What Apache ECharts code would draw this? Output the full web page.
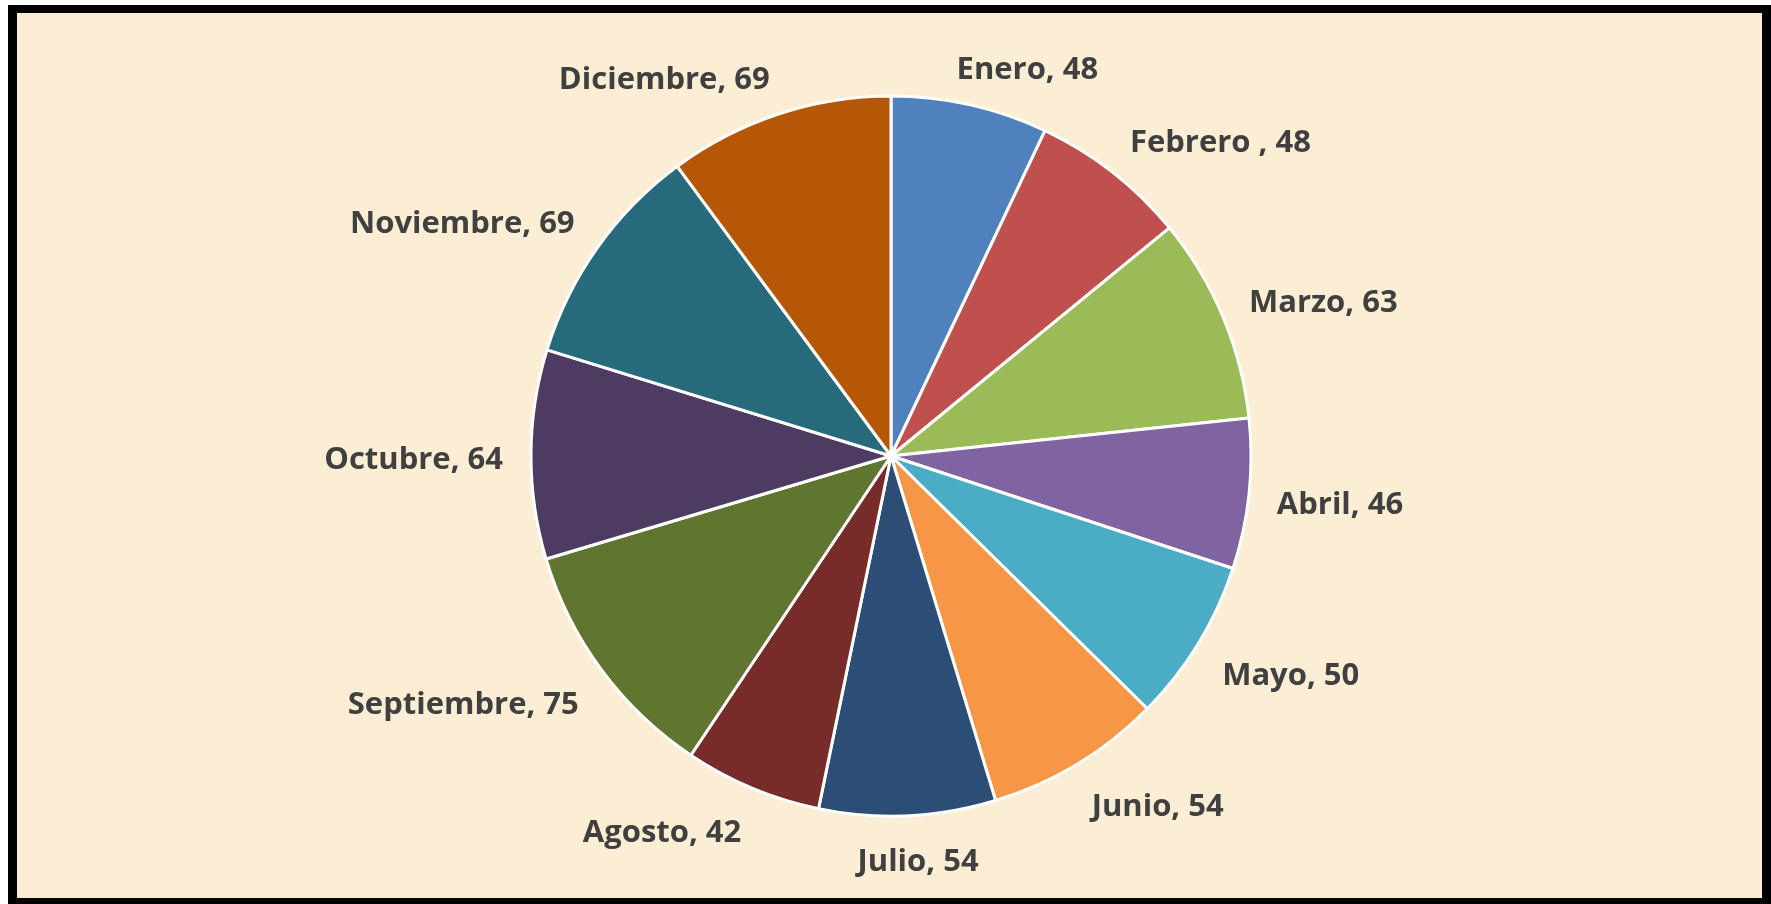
<!DOCTYPE html>
<html>
<head>
<meta charset="utf-8">
<script src="https://cdn.jsdelivr.net/npm/echarts@6/dist/echarts.min.js"></script>
<style>
  html, body { margin: 0; padding: 0; background: #ffffff; }
  #frame {
    position: absolute; left: 8px; top: 5px; width: 1763px; height: 899px;
    box-sizing: border-box; border: 9px solid #000; border-top-width: 8px; border-bottom-width: 6px;
    background: #FBEED4;
  }
  #chart { position: absolute; left: 0; top: 0; width: 1771px; height: 904px; }
</style>
</head>
<body>
<div id="frame"></div>
<div id="chart"></div>
<script>
const categories = ['Enero', 'Febrero ', 'Marzo', 'Abril', 'Mayo', 'Junio', 'Julio', 'Agosto', 'Septiembre', 'Octubre', 'Noviembre', 'Diciembre'];
const values = [48, 48, 63, 46, 50, 54, 54, 42, 75, 64, 69, 69];
const colors = ['#4F81BD', '#C0504D', '#9BBB59', '#8064A2', '#4BACC6', '#F79646', '#2C4D75', '#772C2A', '#5F7530', '#4D3B62', '#276A7C', '#B65708'];

const CX = 891, CY = 456, RADIUS = 360, GAP = 28;
const total = values.reduce((a, b) => a + b, 0);
const midAngles = [];
let acc = 0;
values.forEach(v => { midAngles.push((acc + v / 2) / total * 2 * Math.PI); acc += v; });
const clamp = v => Math.max(-1, Math.min(1, v));

const chart = echarts.init(document.getElementById('chart'), null, { renderer: 'canvas' });
chart.setOption({
  animation: false,
  backgroundColor: 'transparent',
  series: [{
    type: 'pie',
    center: [CX, CY],
    radius: RADIUS,
    startAngle: 90,
    clockwise: true,
    avoidLabelOverlap: false,
    data: categories.map((c, i) => ({ name: c, value: values[i], itemStyle: { color: colors[i] } })),
    itemStyle: { borderColor: '#ffffff', borderWidth: 3 },
    label: {
      show: true,
      position: 'outside',
      formatter: '{b}, {c}',
      fontFamily: '"Open Sans", sans-serif',
      fontWeight: 'bold',
      fontSize: 31,
      color: '#404040'
    },
    labelLine: { show: false, length: 10, length2: 0 },
    emphasis: { disabled: true },
    labelLayout: function (p) {
      const t = midAngles[p.dataIndex];
      const s = Math.sin(t), c = Math.cos(t);
      const R = RADIUS + GAP;
      const ax = CX + R * s, ay = CY - R * c;
      const w = p.labelRect.width;
      return {
        x: ax + clamp(3.3 * s) * w / 2,
        y: ay + clamp(-1.8 * c) * 13 + 6,
        align: 'center',
        verticalAlign: 'middle'
      };
    }
  }]
});
</script>
</body>
</html>
